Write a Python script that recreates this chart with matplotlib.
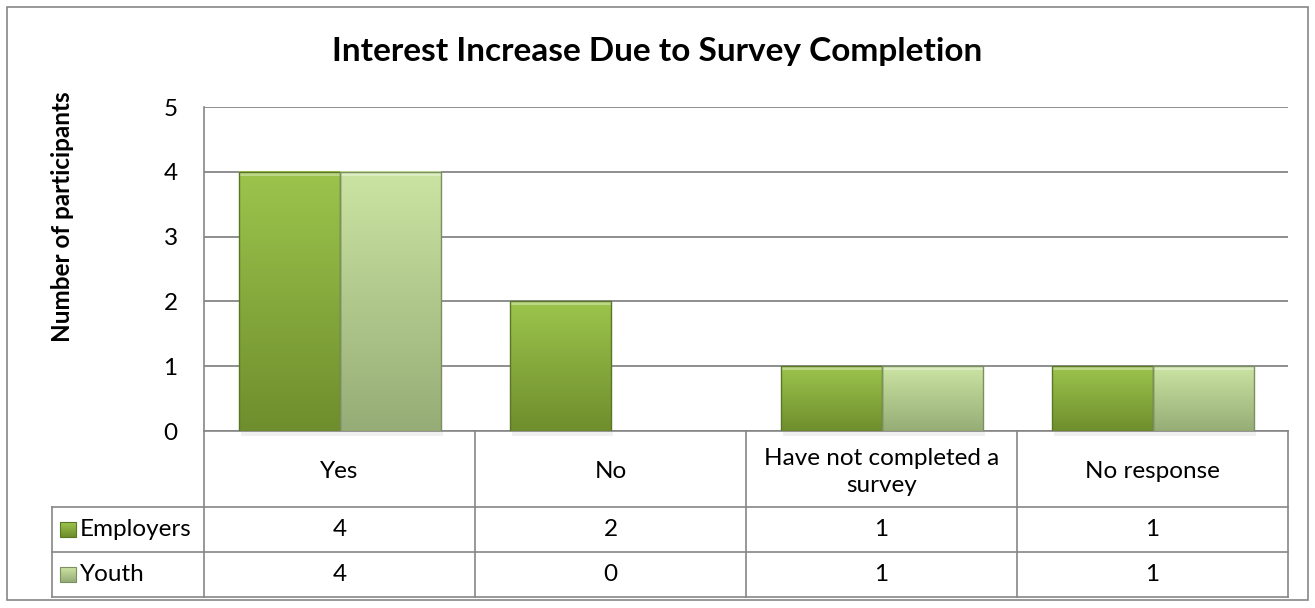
import numpy as np
import matplotlib
matplotlib.use('Agg')
import matplotlib.pyplot as plt
from matplotlib.colors import LinearSegmentedColormap
from matplotlib.patches import Rectangle

plt.rcParams['font.family'] = ['Lato', 'DejaVu Sans']

categories = ['Yes', 'No', 'Have not completed a\nsurvey', 'No response']
series_names = ['Employers', 'Youth']
employers = [4, 2, 1, 1]
youth = [4, 0, 1, 1]
y_ticks = [0, 1, 2, 3, 4, 5]

W, H = 1315, 608
fig = plt.figure(figsize=(W / 100, H / 100), dpi=100)


def px_axes(x0, y0, x1, y1):
    return fig.add_axes([x0 / W, 1 - y1 / H, (x1 - x0) / W, (y1 - y0) / H])


grid_col = '#868686'
fs = 17.5
# top, bottom, edge colours for each series
styles = {
    'Employers': ('#9cc44c', '#6f8e2d', '#5b7624'),
    'Youth': ('#cbe3a2', '#97ad77', '#7b905f'),
}

# outer chart border
fig.patches.append(Rectangle((7 / W, 8 / H), 1301 / W, 593 / H, transform=fig.transFigure,
                             fill=False, edgecolor=grid_col, lw=1.2))

ax = px_axes(204, 107, 1288, 431)
bw = 101 / 271


def gradient_bar(ax, x0, x1, h, top, bottom, edge):
    if h <= 0:
        return
    cmap = LinearSegmentedColormap.from_list('g', [bottom, top])
    grad = np.linspace(0, 1, 64).reshape(-1, 1)
    ax.imshow(grad, extent=[x0, x1, 0, h], origin='lower', aspect='auto',
              cmap=cmap, zorder=3, interpolation='bilinear')
    # soft shadow under the bar
    ax.add_patch(Rectangle((x0 + 0.01, -0.08), x1 - x0, 0.08, facecolor='#000000',
                           alpha=0.06, lw=0, zorder=2, clip_on=False))
    # highlight along the top
    ax.add_patch(Rectangle((x0, h - 0.06), x1 - x0, 0.06, facecolor='white',
                           alpha=0.35, lw=0, zorder=4))
    ax.add_patch(Rectangle((x0, 0), x1 - x0, h, fill=False, edgecolor=edge,
                           lw=1.0, zorder=5))


for i in range(len(categories)):
    t, b, e = styles['Employers']
    gradient_bar(ax, i - bw, i, employers[i], t, b, e)
    t, b, e = styles['Youth']
    gradient_bar(ax, i, i + bw, youth[i], t, b, e)

ax.set_xlim(-0.5, 3.5)
ax.set_ylim(0, 5)
ax.set_yticks(y_ticks)
ax.set_xticks([])
ax.tick_params(axis='y', length=0, pad=19, labelsize=fs)
ax.yaxis.grid(True, color=grid_col, lw=1.3)
ax.set_axisbelow(True)
for s in ['top', 'right']:
    ax.spines[s].set_visible(False)
for s in ['left', 'bottom']:
    ax.spines[s].set_color(grid_col)
    ax.spines[s].set_linewidth(1.2)
ax.patch.set_alpha(0)

fig.text(657 / W, 1 - 52 / H, 'Interest Increase Due to Survey Completion',
         ha='center', va='center', fontsize=24, fontweight='bold')
fig.text(63 / W, 1 - 217 / H, 'Number of participants', rotation=90,
         ha='center', va='center', fontsize=17.5, fontweight='bold')

# data table below the plot
tax = px_axes(52, 431, 1288, 597)
xl = -0.5 - 152 / 271
tax.set_xlim(xl, 3.5)
tax.set_ylim(0, 166)
tax.axis('off')
lk = dict(color=grid_col, lw=1.2, clip_on=False)
for y in [0, 45, 90]:
    tax.plot([xl, 3.5], [y, y], **lk)
for x in np.arange(-0.5, 4.0, 1.0):
    tax.plot([x, x], [0, 166], **lk)
tax.plot([xl, xl], [0, 90], **lk)

for i, c in enumerate(categories):
    tax.text(i, 125, c, ha='center', va='center', fontsize=fs, linespacing=1.4)
    tax.text(i, 67.5, str(employers[i]), ha='center', va='center', fontsize=fs)
    tax.text(i, 22.5, str(youth[i]), ha='center', va='center', fontsize=fs)

kw = 16 / 271
for name, yc in zip(series_names, [67.5, 22.5]):
    t, b, e = styles[name]
    x0 = xl + 8 / 271
    cmap = LinearSegmentedColormap.from_list('k', [b, t])
    tax.imshow(np.linspace(0, 1, 16).reshape(-1, 1), extent=[x0, x0 + kw, yc - 7.5, yc + 7.5],
               origin='lower', aspect='auto', cmap=cmap, zorder=3)
    tax.add_patch(Rectangle((x0, yc - 7.5), kw, 15, fill=False, edgecolor=e, lw=0.8, zorder=4))
    tax.text(x0 + kw + 4 / 271, yc, name, ha='left', va='center', fontsize=fs)
tax.set_xlim(xl, 3.5)
tax.set_ylim(0, 166)

fig.savefig('out.png', dpi=100)
